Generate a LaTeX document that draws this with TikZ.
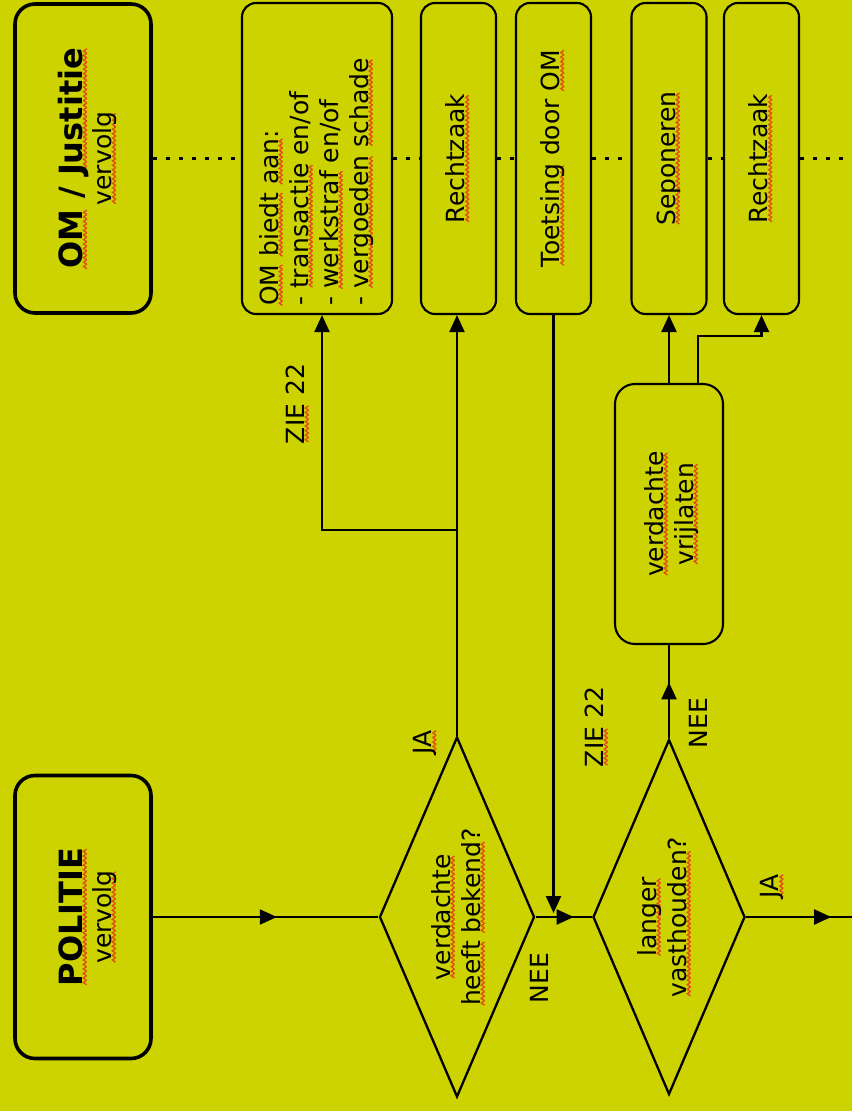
\documentclass[tikz,border=0pt]{standalone}
\usepackage{fontspec}
\setmainfont{DejaVu Sans}
\usepackage{graphicx}
\usetikzlibrary{shapes.geometric,arrows.meta,decorations.markings}
\definecolor{bg}{RGB}{204,211,0}
\newsavebox\sqword
\newcommand\zig{\hbox to 4.5bp{\special{pdf:literal q 0.90 0.30 0.08 RG 1.35 w 0 J 0 0 m 2.25 3.2 l 4.5 0 l S Q}\hss}}
\newcommand\sq[1]{\sbox\sqword{#1}\leavevmode\rlap{\lower4.5pt\hbox to \wd\sqword{\cleaders\zig\hfill}}\usebox\sqword}
\newcommand\rotc[1]{\rotatebox{90}{\begin{tabular}{@{}c@{}}#1\end{tabular}}}
\newcommand\rotl[1]{\rotatebox{90}{\begin{tabular}{@{}l@{}}#1\end{tabular}}}
\newcommand\bodyfnt{\fontsize{25}{30}\selectfont}
\newcommand\titlefnt{\fontsize{32}{32}\selectfont\bfseries}
\begin{document}
\begin{tikzpicture}[x=1pt,y=-1pt,
  ln/.style={line width=2.1pt},
  arr/.style={ln,-{Triangle[length=17pt,width=15pt]}},
  box/.style={draw, line width=2.1pt, rounded corners=14pt, fill=bg, inner sep=0pt,
    minimum width=75pt, minimum height=311pt, font=\bodyfnt},
  tbox/.style={draw, line width=3.6pt, rounded corners=20pt, fill=bg, inner sep=0pt,
    minimum width=136pt},
  dia/.style={draw, line width=2.3pt, diamond, fill=bg, inner sep=0pt},
  lbl/.style={inner sep=0pt, font=\bodyfnt},
  dots/.style={line width=2.1pt, dash pattern=on 4pt off 9pt},
  midarr/.style={decoration={markings, mark=at position #1 with {\arrow{Triangle[length=17pt,width=15pt]}}}, postaction={decorate}}
]
\useasboundingbox (0,0) rectangle (852,1111);
\fill[bg] (0,0) rectangle (852,1111);

% title boxes
\node[tbox, minimum height=309pt] (omj) at (83,158.5) {};
\node[lbl, font=\fontsize{25}{29}\selectfont] (omjt) at (89,158.5)
  {\rotc{{\titlefnt \sq{OM} / \sq{Justitie}}\\ \sq{vervolg}}};
\node[tbox, minimum height=283pt] (pol) at (83,917) {};
\node[lbl, font=\fontsize{25}{29}\selectfont] (polt) at (89,917)
  {\rotc{{\titlefnt \sq{POLITIE}}\\ \sq{vervolg}}};

% top boxes
\node[box, minimum width=150pt] (omb) at (317,158.5) {};
\node[lbl, anchor=south] (ombt) at (317,306)
  {\rotl{\sq{OM} \sq{biedt} \sq{aan}:\\- \sq{transactie} en/of\\- \sq{werkstraf} en/of\\- \sq{vergoeden} \sq{schade}}};
\node[box] (rz1) at (458.5,158.5) {\rotc{\sq{Rechtzaak}}};
\node[box] (toets) at (553.5,158.5) {\rotc{\sq{Toetsing} door \sq{OM}}};
\node[box] (sep) at (669,158.5) {\rotc{\sq{Seponeren}}};
\node[box] (rz2) at (761.5,158.5) {\rotc{\sq{Rechtzaak}}};

% dotted guide line
\coordinate (dend) at (852,158.5);
\draw[dots] (omj.east) -- (omb.west);
\draw[dots] (omb.east) -- (rz1.west);
\draw[dots] (rz1.east) -- (toets.west);
\draw[dots] (toets.east) -- (sep.west);
\draw[dots] (sep.east) -- (rz2.west);
\draw[dots] (rz2.east) -- (dend);

% middle box
\node[box, rounded corners=20pt, minimum width=108pt, minimum height=260pt] (vrij) at (669,514) {};
\node[lbl] (vrijt) at (672,514) {\rotc{\sq{verdachte}\\ \sq{vrijlaten}}};

% diamonds
\node[dia, minimum width=155pt, minimum height=360pt] (d1) at (457,917) {};
\node[lbl] (d1t) at (459,917) {\rotc{\sq{verdachte}\\ \sq{heeft} \sq{bekend}?}};
\node[dia, minimum width=152pt, minimum height=355pt] (d2) at (669,917) {};
\node[lbl] (d2t) at (665,917) {\rotc{\sq{langer}\\ \sq{vasthouden}?}};

% connectors
\draw[ln, midarr=124pt] (pol.east) -- (d1.west);
\draw[arr] (d1.north) -- (d1.north |- rz1.south);
\coordinate (br) at (457,530);
\draw[arr] (br) -| ([xshift=5pt]omb.south);
\draw[ln, midarr=38pt] (d1.east) -- (d2.west);
\coordinate (j) at (toets.south |- d1.east);
\draw[arr, shorten >=4pt] (toets.south) -- (j);
\coordinate (rend) at (852,917);
\draw[ln, midarr=85pt] (d2.east) -- (rend);
\draw[ln, midarr=56pt] (d2.north) -- (vrij.south);
\draw[arr] (vrij.north) -- (vrij.north |- sep.south);
\coordinate (k) at (698,336);
\draw[arr] ([xshift=29pt]vrij.north) -- (k) -| (rz2.south);

% labels
\node[lbl] (zie1) at (297,404) {\rotatebox{90}{\sq{ZIE} 22}};
\node[lbl] (ja1) at (425,742) {\rotatebox{90}{\sq{JA}}};
\node[lbl] (nee1) at (539,978) {\rotatebox{90}{NEE}};
\node[lbl] (zie2) at (596,727) {\rotatebox{90}{\sq{ZIE} 22}};
\node[lbl] (nee2) at (698,723) {\rotatebox{90}{NEE}};
\node[lbl] (ja2) at (772,886) {\rotatebox{90}{\sq{JA}}};
\end{tikzpicture}
\end{document}
